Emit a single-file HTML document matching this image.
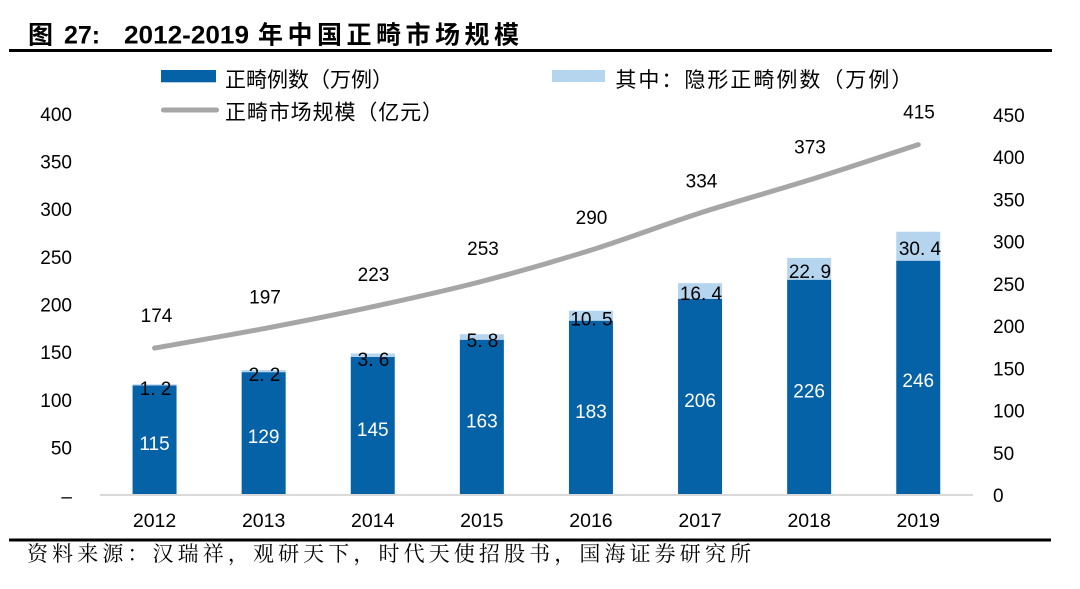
<!DOCTYPE html>
<html>
<head>
<meta charset="utf-8">
<style>
  html,body{margin:0;padding:0;background:#fff;}
  body{width:1080px;height:589px;overflow:hidden;}
  svg{display:block;}
  .num{font-family:"Liberation Sans",Arial,sans-serif;font-size:19px;fill:#000;}
</style>
</head>
<body>
<svg width="1080" height="589" viewBox="0 0 1080 589" xmlns="http://www.w3.org/2000/svg">
  <!-- Title -->
  <text x="28" y="43.5" font-family="'Noto Sans CJK SC',sans-serif" font-weight="bold" font-size="25" fill="#000">图</text>
  <text x="64" y="43.5" font-family="'Liberation Sans',sans-serif" font-weight="bold" font-size="25" fill="#000">27:</text>
  <text x="124" y="43.5" font-family="'Liberation Sans',sans-serif" font-weight="bold" font-size="25" fill="#000" textLength="125" lengthAdjust="spacingAndGlyphs">2012-2019</text>
  <text x="258" y="43.5" font-family="'Noto Sans CJK SC',sans-serif" font-weight="bold" font-size="25" fill="#000" textLength="261" lengthAdjust="spacing">年中国正畸市场规模</text>
  <rect x="9" y="49" width="1043" height="3" fill="#000"/>

  <!-- Legend -->
  <rect x="161" y="70" width="55" height="12.3" fill="#0562a6"/>
  <text x="225" y="87" font-family="'Noto Sans CJK SC',sans-serif" font-size="21" fill="#000" textLength="168" lengthAdjust="spacing">正畸例数（万例）</text>
  <rect x="552" y="70" width="53" height="12" fill="#b5d5ef"/>
  <text x="615.4" y="87" font-family="'Noto Sans CJK SC',sans-serif" font-size="21" fill="#000" textLength="297" lengthAdjust="spacing">其中：隐形正畸例数（万例）</text>
  <line x1="163.5" y1="110" x2="216.5" y2="110" stroke="#a6a6a6" stroke-width="5" stroke-linecap="round"/>
  <text x="225" y="119.5" font-family="'Noto Sans CJK SC',sans-serif" font-size="21" fill="#000" textLength="218" lengthAdjust="spacing">正畸市场规模（亿元）</text>

  <!-- Left axis labels -->
  <g class="num" text-anchor="end">
    <text x="72" y="121">400</text>
    <text x="72" y="168.6">350</text>
    <text x="72" y="216.2">300</text>
    <text x="72" y="263.9">250</text>
    <text x="72" y="311.5">200</text>
    <text x="72" y="359.1">150</text>
    <text x="72" y="406.8">100</text>
    <text x="72" y="454.4">50</text>
    <text x="72" y="503">–</text>
  </g>

  <!-- Right axis labels -->
  <g class="num" text-anchor="start">
    <text x="993" y="122">450</text>
    <text x="993" y="164.2">400</text>
    <text x="993" y="206.5">350</text>
    <text x="993" y="248.7">300</text>
    <text x="993" y="290.9">250</text>
    <text x="993" y="333.1">200</text>
    <text x="993" y="375.3">150</text>
    <text x="993" y="417.6">100</text>
    <text x="993" y="459.8">50</text>
    <text x="993" y="502">0</text>
  </g>

  <!-- Bars: dark -->
  <g fill="#0562a6">
    <rect x="132.55" y="385.46" width="44" height="109.54"/>
    <rect x="241.65" y="372.13" width="44" height="122.87"/>
    <rect x="350.75" y="356.89" width="44" height="138.11"/>
    <rect x="459.85" y="339.74" width="44" height="155.26"/>
    <rect x="568.95" y="320.69" width="44" height="174.31"/>
    <rect x="678.05" y="298.78" width="44" height="196.22"/>
    <rect x="787.15" y="279.73" width="44" height="215.27"/>
    <rect x="896.25" y="260.69" width="44" height="234.31"/>
  </g>
  <!-- Bars: light -->
  <g fill="#b5d5ef">
    <rect x="132.55" y="384.32" width="44" height="1.14"/>
    <rect x="241.65" y="370.04" width="44" height="2.09"/>
    <rect x="350.75" y="353.46" width="44" height="3.43"/>
    <rect x="459.85" y="334.22" width="44" height="5.52"/>
    <rect x="568.95" y="310.69" width="44" height="10.0"/>
    <rect x="678.05" y="283.16" width="44" height="15.62"/>
    <rect x="787.15" y="257.92" width="44" height="21.81"/>
    <rect x="896.25" y="231.73" width="44" height="28.96"/>
  </g>

  <!-- Axis line -->
  <rect x="100" y="494" width="873" height="2" fill="#d9d9d9"/>

  <!-- Dark bar labels (white) -->
  <g class="num" text-anchor="middle" style="fill:#fff">
    <text x="154.55" y="450">115</text>
    <text x="263.65" y="443">129</text>
    <text x="372.75" y="436">145</text>
    <text x="481.85" y="427.5">163</text>
    <text x="590.95" y="418">183</text>
    <text x="700.05" y="407">206</text>
    <text x="809.15" y="397.5">226</text>
    <text x="918.25" y="387">246</text>
  </g>

  <!-- Light bar labels -->
  <g class="num" text-anchor="middle" xml:space="preserve">
    <text x="155.5" y="395">1. 2</text>
    <text x="264.5" y="381">2. 2</text>
    <text x="373.5" y="366">3. 6</text>
    <text x="482.5" y="347">5. 8</text>
    <text x="591.5" y="325.5">10. 5</text>
    <text x="701" y="300">16. 4</text>
    <text x="810" y="278">22. 9</text>
    <text x="920" y="255">30. 4</text>
  </g>

  <!-- Line -->
  <path d="M154.55,348.07 C172.73,344.83 227.28,335.55 263.65,328.65 C300.02,321.75 336.38,314.58 372.75,306.70 C409.12,298.82 445.48,290.80 481.85,281.37 C518.22,271.94 554.58,261.52 590.95,250.12 C627.32,238.72 663.68,224.65 700.05,212.97 C736.42,201.29 772.78,191.44 809.15,180.04 C845.52,168.64 900.07,150.48 918.25,144.57"
        fill="none" stroke="#a6a6a6" stroke-width="5" stroke-linecap="round" stroke-linejoin="round"/>

  <!-- Line labels -->
  <g class="num" text-anchor="middle">
    <text x="156.5" y="322">174</text>
    <text x="265" y="303.5">197</text>
    <text x="373.5" y="281">223</text>
    <text x="483" y="255">253</text>
    <text x="591.5" y="224">290</text>
    <text x="701.5" y="187.5">334</text>
    <text x="810" y="153.5">373</text>
    <text x="919" y="118.5">415</text>
  </g>

  <!-- X labels -->
  <g class="num" text-anchor="middle" style="font-size:19.5px">
    <text x="154.55" y="527">2012</text>
    <text x="263.65" y="527">2013</text>
    <text x="372.75" y="527">2014</text>
    <text x="481.85" y="527">2015</text>
    <text x="590.95" y="527">2016</text>
    <text x="700.05" y="527">2017</text>
    <text x="809.15" y="527">2018</text>
    <text x="918.25" y="527">2019</text>
  </g>

  <!-- Bottom rule -->
  <rect x="9" y="538.5" width="1042" height="3" fill="#000"/>

  <!-- Source -->
  <text x="27" y="561" font-family="'Noto Serif CJK SC','Noto Sans CJK SC',serif" font-size="21" fill="#000" textLength="724" lengthAdjust="spacing">资料来源：汉瑞祥，观研天下，时代天使招股书，国海证券研究所</text>
</svg>
</body>
</html>
